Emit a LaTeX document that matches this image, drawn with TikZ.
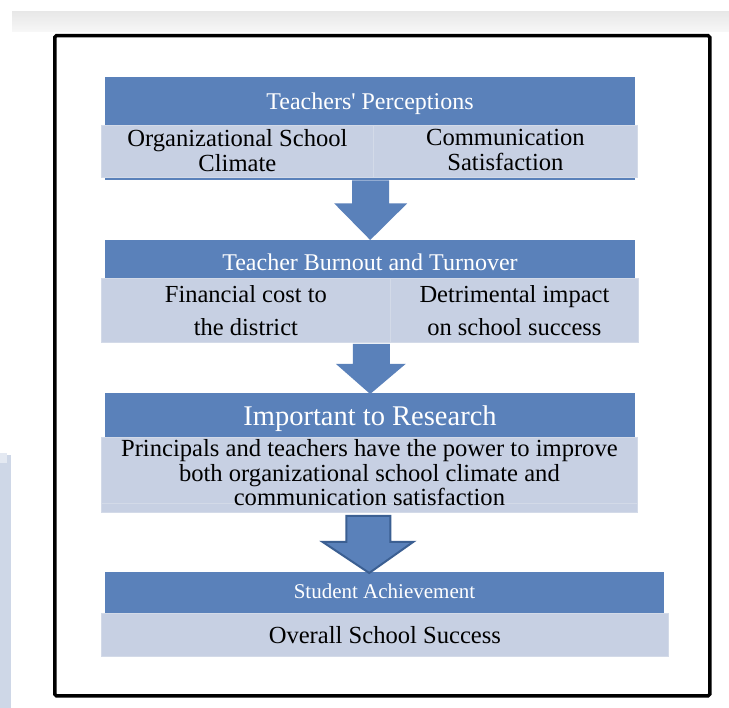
\documentclass[tikz,border=0pt]{standalone}
\usepackage{fontspec}
\setmainfont{Liberation Serif}
\newfontfamily\plainserif{Liberation Serif}
\usetikzlibrary{calc}
\definecolor{barblue}{HTML}{5A81BA}
\definecolor{lightbox}{HTML}{C7D0E3}
\definecolor{lightedge}{HTML}{D3DAE8}
\definecolor{darkedge}{HTML}{3B5F92}
\definecolor{sidestrip}{HTML}{CED7E7}
\begin{document}
\begin{tikzpicture}[x=1pt,y=-1pt,
  bar/.style={fill=barblue, inner sep=0pt, anchor=north west},
  lbox/.style={fill=lightbox, draw=lightedge, line width=0.8pt, inner sep=0pt, anchor=north west},
  ttl/.style={text=white, inner sep=0pt, font=\fontsize{24}{26}\selectfont},
  body/.style={text=black, inner sep=0pt, align=center},
  blockarrow/.style={fill=barblue},
  frame/.style={draw=black, line width=3.5pt, rounded corners=1.5pt, inner sep=0pt, anchor=north west}
]
\useasboundingbox (0,0) rectangle (729,708);
\fill[white] (0,0) rectangle (729,708);
% top grey band and left strip
\fill[top color=gray!18, bottom color=gray!6] (12,12) rectangle (729,32);
\fill[sidestrip] (0,455) rectangle (11,708);
\fill[sidestrip!55!white] (0,453) rectangle (7,463);
% frame
\node[frame, minimum width=655pt, minimum height=660pt] (frm) at (53,34) {};

% block 1
\node[bar, minimum width=530pt, minimum height=103pt] (b1) at (105,77) {};
\node[ttl, anchor=base] (t1) at (370,110) {\plainserif Teachers' Perceptions};
\node[lbox, minimum width=272pt, minimum height=52pt] (l1a) at (101,125) {};
\node[lbox, minimum width=264pt, minimum height=52pt] (l1b) at (373,125) {};
\node[body, font=\fontsize{24.6}{25}\selectfont] (x1a) at ($(l1a.center)+(0,-1)$) {Organizational School\\Climate};
\node[body, font=\fontsize{24.6}{25}\selectfont] (x1b) at ($(l1b.center)+(0,-1)$) {Communication\\Satisfaction};

% block 2
\node[bar, minimum width=530pt, minimum height=38pt] (b2) at (105,240) {};
\node[ttl, anchor=base] (t2) at (370,271) {Teacher Burnout and Turnover};
\node[lbox, minimum width=289pt, minimum height=64pt] (l2a) at (101,278) {};
\node[lbox, minimum width=248pt, minimum height=64pt] (l2b) at (390,278) {};
\node[body, font=\fontsize{24.5}{33}\selectfont] (x2a) at (l2a.center) {Financial cost to\\the district};
\node[body, font=\fontsize{24.5}{33}\selectfont] (x2b) at (l2b.center) {Detrimental impact\\on school success};

% block 3
\node[bar, minimum width=530pt, minimum height=44pt] (b3) at (105,393) {};
\node[ttl, anchor=base, font=\fontsize{28.5}{30}\selectfont] (t3) at (370,426) {Important to Research};
\node[lbox, minimum width=536pt, minimum height=75pt] (l3) at (101,437) {};
\draw[lightedge, line width=0.8pt] ($(l3.south west)+(1,-9)$) -- ($(l3.south east)+(-1,-9)$);
\node[body, font=\fontsize{24.6}{24.5}\selectfont] (x3) at ($(l3.center)+(0,-2)$) {Principals and teachers have the power to improve\\both organizational school climate and\\communication satisfaction};

% block 4
\node[bar, minimum width=559pt, minimum height=41pt] (b4) at (105,572) {};
\node[ttl, anchor=base, font=\fontsize{21}{23}\selectfont] (t4) at (384.5,598) {Student Achievement};
\node[lbox, minimum width=567pt, minimum height=43pt] (l4) at (101,613) {};
\node[body, font=\fontsize{24.6}{26}\selectfont] (x4) at (l4.center) {Overall School Success};

% arrows
\fill[blockarrow] ($(b1.south)+(-18,0)$) -- ($(b1.south)+(-18,23)$) -- ($(b1.south)+(-36,23)$)
  -- (b2.north) -- ($(b1.south)+(37,23)$) -- ($(b1.south)+(19,23)$) -- ($(b1.south)+(19,0)$) -- cycle;
\fill[blockarrow] ($(l2a.south east)+(-38,1)$) -- ($(l2a.south east)+(-38,21)$) -- ($(l2a.south east)+(-55,21)$)
  -- ($(b3.north)+(0,1)$) -- ($(l2a.south east)+(15,21)$) -- ($(l2a.south east)+(-1,21)$) -- ($(l2a.south east)+(-1,1)$) -- cycle;
\filldraw[blockarrow, draw=darkedge, line width=2pt, line join=miter]
  ($(l3.south)+(-23,3)$) -- ($(l3.south)+(-23,29)$) -- ($(l3.south)+(-47,29)$)
  -- ($(b4.north)+(-15.5,1)$) -- ($(l3.south)+(44,29)$) -- ($(l3.south)+(21,29)$) -- ($(l3.south)+(21,3)$) -- cycle;
\end{tikzpicture}
\end{document}
